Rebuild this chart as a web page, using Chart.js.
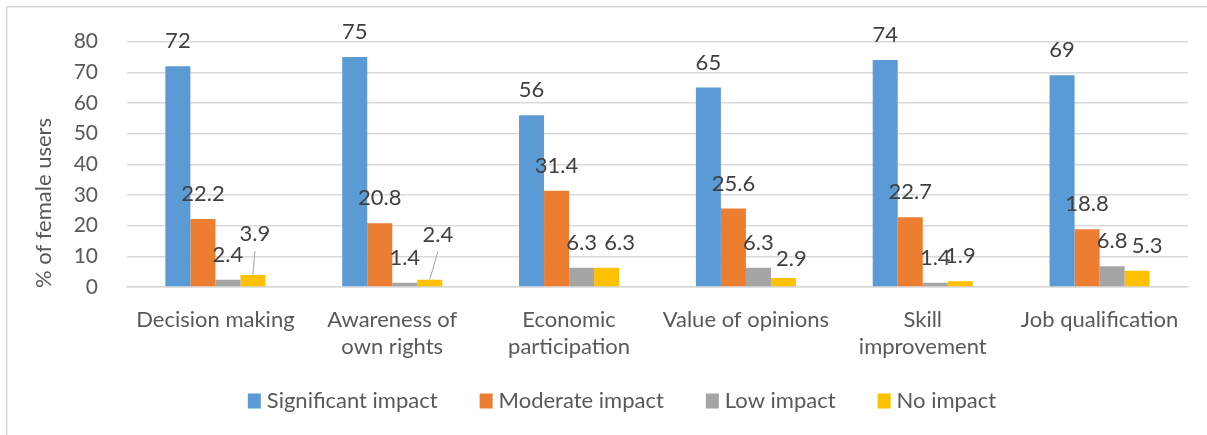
<!DOCTYPE html>
<html>
<head>
<meta charset="utf-8">
<script src="https://cdn.jsdelivr.net/npm/chart.js@4.4.0/dist/chart.umd.min.js"></script>
<style>
  html, body { margin: 0; padding: 0; background: #fff; }
  #wrap { width: 1207px; height: 435px; position: relative; }
</style>
</head>
<body>
<div id="wrap"><canvas id="mycanvas" width="1207" height="435"></canvas></div>
<script>
var categories = [
    'Decision making',
    ['Awareness of', 'own rights'],
    ['Economic', 'participation'],
    'Value of opinions',
    ['Skill', 'improvement'],
    'Job qualification'
];
var seriesNames = ['Significant impact', 'Moderate impact', 'Low impact', 'No impact'];
var significant = [72, 75, 56, 65, 74, 69];
var moderate = [22.2, 20.8, 31.4, 25.6, 22.7, 18.8];
var low = [2.4, 1.4, 6.3, 6.3, 1.4, 6.8];
var noImpact = [3.9, 2.4, 6.3, 2.9, 1.9, 5.3];
var yTicks = [0, 10, 20, 30, 40, 50, 60, 70, 80];

var colors = ['#5B9BD5', '#ED7D31', '#A5A5A5', '#FFC000'];
var FONT = 'Lato, "Open Sans", sans-serif';

// labels that were dragged in the original (dataset-index : nudge)
var labelNudge = {
    '3-0': { dx: 2, dy: -16, leader: true },
    '3-1': { dx: 8, dy: -20, leader: true },
    '3-2': { dx: 13, dy: 0 },
    '3-3': { dx: 8, dy: 6 },
    '3-5': { dx: 10, dy: 0 }
};

var extras = {
    id: 'extras',
    beforeDraw: function (chart) {
        var c = chart.ctx;
        c.save();
        c.strokeStyle = '#d9d9d9';
        c.lineWidth = 1.5;
        c.beginPath();
        c.moveTo(6.75, 435);
        c.lineTo(6.75, 6.75);
        c.lineTo(1207, 6.75);
        c.stroke();
        c.restore();
    },
    afterDatasetsDraw: function (chart) {
        var c = chart.ctx;
        c.save();
        c.font = '22px ' + FONT;
        c.fillStyle = '#404040';
        c.textAlign = 'center';
        c.textBaseline = 'middle';
        chart.data.datasets.forEach(function (ds, di) {
            var meta = chart.getDatasetMeta(di);
            meta.data.forEach(function (el, i) {
                var n = labelNudge[di + '-' + i] || { dx: 0, dy: 0 };
                var lx = el.x + n.dx;
                var ly = el.y - 25 + n.dy;
                if (n.leader) {
                    c.strokeStyle = '#a6a6a6';
                    c.lineWidth = 1;
                    c.beginPath();
                    c.moveTo(lx, ly + 17);
                    c.lineTo(el.x, el.y);
                    c.stroke();
                }
                c.fillText(String(ds.data[i]), lx, ly);
            });
        });

        // y axis title
        c.save();
        c.translate(44, 203);
        c.rotate(-Math.PI / 2);
        c.font = '22px ' + FONT;
        c.fillStyle = '#595959';
        c.fillText('% of female users', 0, 0);
        c.restore();

        // legend
        c.font = '22px ' + FONT;
        c.textAlign = 'left';
        var box = 13, gapText = 6, gapItem = 42;
        var widths = chart.data.datasets.map(function (ds) { return c.measureText(ds.label).width; });
        var total = 0;
        widths.forEach(function (w) { total += box + gapText + w; });
        total += gapItem * (widths.length - 1);
        var x = 622 - total / 2;
        var ly = 401;
        chart.data.datasets.forEach(function (ds, di) {
            c.fillStyle = ds.backgroundColor;
            c.fillRect(x, ly - 7.5, box, 15);
            c.fillStyle = '#595959';
            c.fillText(ds.label, x + box + gapText, ly);
            x += box + gapText + widths[di] + gapItem;
        });
        c.restore();
    }
};

var chartdata = {
    labels: categories,
    datasets: [
        { label: seriesNames[0], backgroundColor: colors[0], data: significant },
        { label: seriesNames[1], backgroundColor: colors[1], data: moderate },
        { label: seriesNames[2], backgroundColor: colors[2], data: low },
        { label: seriesNames[3], backgroundColor: colors[3], data: noImpact }
    ]
};

var ctx = document.getElementById('mycanvas');
var mycanvas = new Chart(ctx, {
    type: 'bar',
    data: chartdata,
    plugins: [extras],
    options: {
        responsive: false,
        animation: false,
        datasets: {
            bar: { categoryPercentage: 0.566, barPercentage: 1.0, borderWidth: 0 }
        },
        layout: { padding: { left: 0, right: 19, top: 35, bottom: 0 } },
        plugins: {
            legend: { display: false },
            tooltip: { enabled: false }
        },
        scales: {
            x: {
                grid: { display: false, drawTicks: false },
                border: { display: true, color: '#d9d9d9', width: 1.5 },
                ticks: {
                    color: '#595959',
                    font: { family: FONT, size: 22, lineHeight: 1.23 },
                    padding: 19,
                    maxRotation: 0,
                    autoSkip: false
                },
                afterFit: function (scale) { scale.height = 148; }
            },
            y: {
                min: 0,
                max: 80,
                afterBuildTicks: function (scale) {
                    scale.ticks = yTicks.map(function (v) { return { value: v }; });
                },
                grid: { color: '#d9d9d9', lineWidth: 1.5, drawTicks: false },
                border: { display: false },
                ticks: {
                    color: '#595959',
                    font: { family: FONT, size: 21 },
                    padding: 29
                },
                afterFit: function (scale) { scale.width = 127; }
            }
        }
    }
});
</script>
</body>
</html>
